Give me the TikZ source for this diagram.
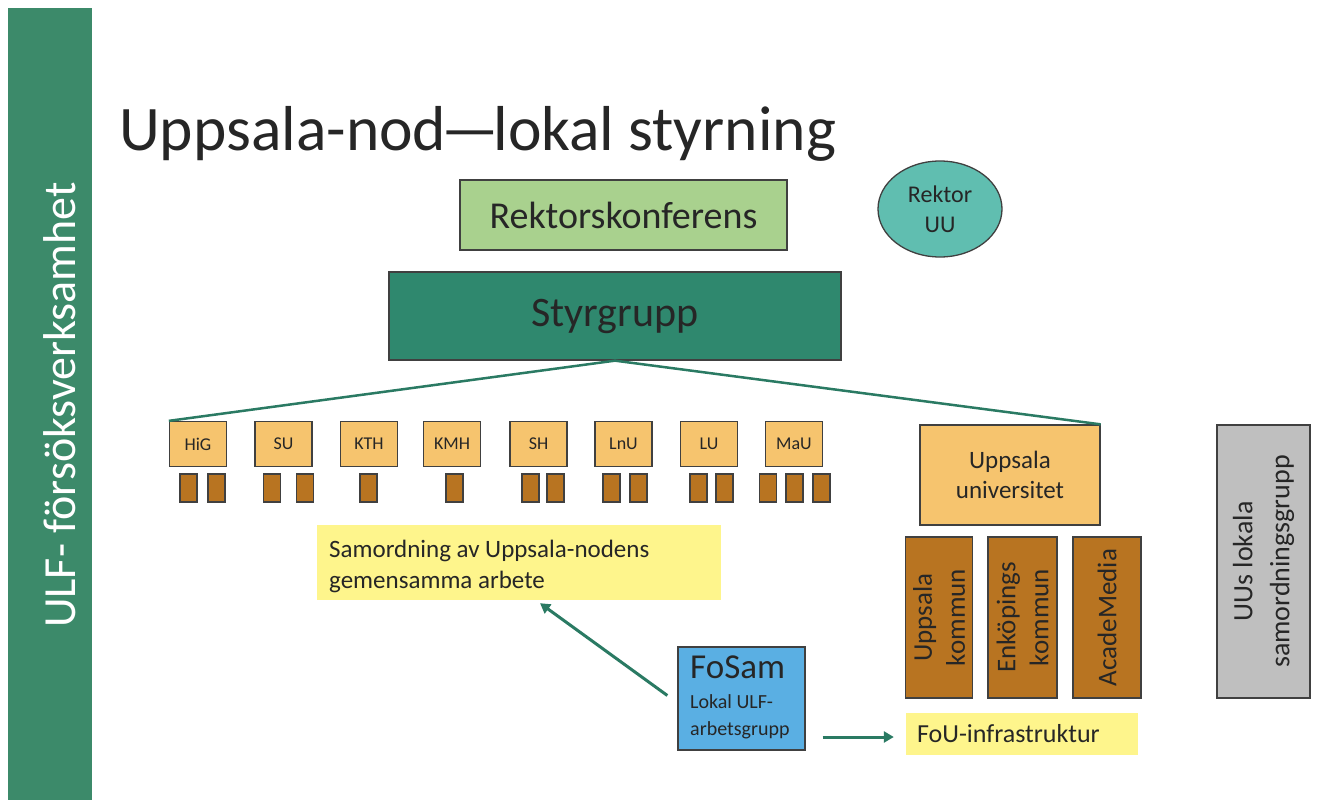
\documentclass[tikz,border=0pt]{standalone}
\usepackage{fontspec}
\setmainfont{Carlito}
\usetikzlibrary{arrows.meta,shapes.geometric,calc}
\definecolor{barg}{RGB}{60,138,106}
\definecolor{styg}{RGB}{47,136,110}
\definecolor{rkg}{RGB}{169,209,142}
\definecolor{rug}{RGB}{96,190,176}
\definecolor{orl}{RGB}{246,196,110}
\definecolor{brn}{RGB}{184,116,33}
\definecolor{gry}{RGB}{191,191,191}
\definecolor{yel}{RGB}{254,245,140}
\definecolor{blu}{RGB}{90,175,227}
\definecolor{lin}{RGB}{42,122,99}
\definecolor{bd}{RGB}{64,64,64}
\definecolor{txt}{RGB}{38,38,38}
\tikzset{
  box/.style={draw=bd, line width=1.3pt, text=txt, inner sep=0pt, align=center},
  obox/.style={box, fill=orl, minimum width=57pt, minimum height=45pt, font=\fontsize{18}{20}\selectfont},
  bbox/.style={box, fill=brn, minimum width=17pt, minimum height=28pt},
  tbox/.style={box, fill=brn, minimum width=161pt, minimum height=67pt, rotate=90, font=\fontsize{27}{33}\selectfont},
  ybox/.style={fill=yel, text=txt, inner sep=0pt},
  conn/.style={draw=lin, line width=2.5pt},
  arr/.style={draw=lin, line width=3pt, -{Triangle[length=10pt,width=11pt]}}
}
\begin{document}
\begin{tikzpicture}[x=1pt,y=-1pt]
\useasboundingbox[fill=white] (0,0) rectangle (1319,800);
% left bar
\node[fill=barg, minimum width=84pt, minimum height=792pt, inner sep=0pt, anchor=north west] (bar) at (8,8) {};
\node[rotate=90, text=white, font=\fontsize{46}{52}\selectfont] (bartxt) at (60,405) {ULF- försöksverksamhet};
% title
\node[anchor=base west, text=txt, font=\fontsize{63.5}{70}\selectfont, inner sep=0pt] (title) at (119,150) {Uppsala-nod\kern-0.08em—\kern-0.08em lokal styrning};
% top nodes
\node[box, fill=rkg, minimum width=327pt, minimum height=70pt, font=\fontsize{38}{44}\selectfont] (rk) at (623.5,215) {Rektorskonferens};
\node[box, ellipse, fill=rug, minimum width=124pt, minimum height=96pt, font=\fontsize{24}{30}\selectfont] (ru) at (940,209) {Rektor\\UU};
\node[box, fill=styg, minimum width=452pt, minimum height=88pt, font=\fontsize{42}{48}\selectfont] (sty) at (615,316) {Styrgrupp};
% universities
\node[obox] (hig) at (198,444) {HiG};
\node[obox] (su)  at (283.5,444) {SU};
\node[obox] (kth) at (369,444) {KTH};
\node[obox] (kmh) at (452,444) {KMH};
\node[obox] (sh)  at (538.5,444) {SH};
\node[obox] (lnu) at (623.5,444) {LnU};
\node[obox] (lu)  at (709,444) {LU};
\node[obox] (mau) at (794,444) {MaU};
% small brown boxes
\foreach \n/\x in {b1/188.5,b2/216.5,b3/272,b4/305,b5/368.5,b6/454.5,b7/530.5,b8/555.5,b9/611.5,b10/638.5,b11/698.5,b12/724.5,b13/768,b14/794.5,b15/821.5}
  \node[bbox] (\n) at (\x,488) {};
% Uppsala universitet
\node[box, fill=orl, minimum width=180pt, minimum height=100pt, font=\fontsize{25}{30}\selectfont] (uu) at (1010,475) {Uppsala\\universitet};
\node[tbox] (uk) at (939,617.5) {Uppsala\\kommun};
\node[tbox, minimum height=69pt] (ek) at (1022.5,617.5) {Enköpings\\kommun};
\node[tbox, minimum height=68pt] (am) at (1107,617.5) {AcadeMedia};
\node[box, fill=gry, rotate=90, minimum width=273pt, minimum height=93pt, font=\fontsize{28}{37}\selectfont] (ul) at (1263.5,561.5) {UUs lokala\\samordningsgrupp};
% connectors from Styrgrupp
\draw[conn] (sty.south) -- (hig.north west);
\draw[conn] (sty.south) -- (uu.north east);
% yellow boxes
\node[ybox, minimum width=404pt, minimum height=75pt] (sam) at (519,562.5) {};
\node[anchor=north west, text=txt, align=left, inner sep=0pt, font=\fontsize{25}{31}\selectfont] (samtxt) at (329,540) {Samordning av Uppsala-nodens\\gemensamma arbete};
\node[ybox, minimum width=232pt, minimum height=42pt, font=\fontsize{26}{30}\selectfont, text width=210pt, align=left] (fou) at (1022,734) {FoU-infrastruktur};
% FoSam
\node[box, fill=blu, minimum width=127pt, minimum height=103pt] (fosam) at (741.5,698.5) {};
\node[anchor=north west, text=txt, inner sep=0pt, align=left, font=\fontsize{35}{38}\selectfont] (fostitle) at (690,656) {FoSam};
\node[anchor=north west, text=txt, inner sep=0pt, align=left, font=\fontsize{20}{27}\selectfont] (fossub) at (690,694) {Lokal ULF-\\arbetsgrupp};
% arrows
\coordinate (a1) at ([xshift=-10pt,yshift=3pt]fosam.west);
\coordinate (a2) at ([xshift=21pt,yshift=-3pt]sam.south);
\draw[arr] (a1) -- (a2);
\coordinate (a3) at ([xshift=17pt]fosam.east);
\coordinate (a4) at ([xshift=-12pt,yshift=-3pt]fou.west);
\draw[arr] (a3 |- a4) -- (a4);
\end{tikzpicture}
\end{document}
